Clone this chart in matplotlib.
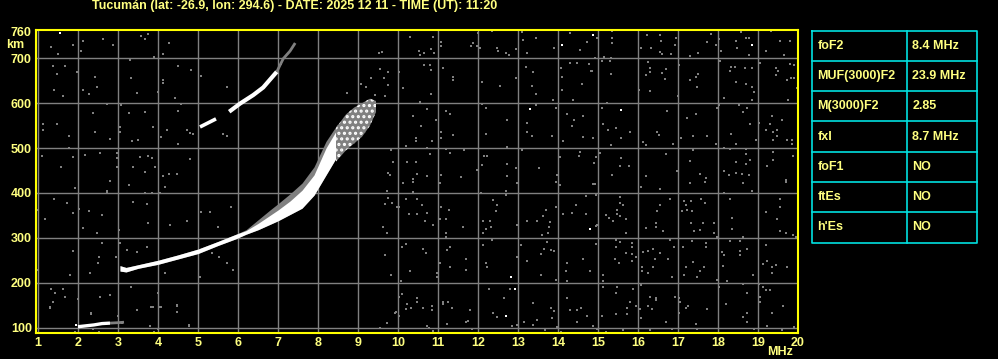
import matplotlib
matplotlib.use('Agg')
import matplotlib.pyplot as plt

title = 'Tucumán (lat: -26.9, lon: 294.6) - DATE: 2025 12 11 - TIME (UT): 11:20'
freq_ticks = list(range(1, 21))
height_ticks = [100, 200, 300, 400, 500, 600, 700]

# scaled parameters shown in the side table
params = ['foF2', 'MUF(3000)F2', 'M(3000)F2', 'fxI', 'foF1', 'ftEs', "h'Es"]
param_values = ['8.4 MHz', '23.9 MHz', '2.85', '8.7 MHz', 'NO', 'NO', 'NO']

# E-like trace near 100 km
e_freq = [2.0, 2.2, 2.4, 2.6, 2.8]
e_height = [102, 104, 106, 109, 110]
e_tail_freq = [2.8, 3.0, 3.15]
e_tail_height = [110, 111, 112]

# F2 trace, lower and upper edges of the echo band
f2_freq = [3.05, 3.2, 3.5, 4.0, 4.5, 5.0, 5.5, 5.95, 6.2, 6.5, 6.8, 7.0, 7.3, 7.6, 7.9, 8.2, 8.5]
f2_lower = [226, 224, 232, 241, 253, 265, 283, 298, 308, 318, 330, 338, 352, 366, 395, 440, 485]
f2_upper = [238, 234, 240, 250, 262, 275, 292, 308, 316, 332, 350, 362, 382, 406, 440, 500, 545]
# gray fringe on the upper side of the band
fringe_upper = [238, 234, 240, 250, 262, 275, 292, 308, 318, 340, 362, 376, 398, 422, 458, 515, 555]

# spread echo close to the critical frequency
spread_freq = [8.45, 8.7, 8.9, 9.1, 9.3, 9.45]
spread_lower = [470, 495, 510, 525, 550, 580]
spread_upper = [545, 575, 590, 600, 610, 605]

# second hop
hop2_freq = [5.05, 5.25, 5.45]
hop2_height = [547, 556, 565]
hop2b_freq = [5.78, 6.05, 6.38, 6.63, 6.97]
hop2b_height = [581, 599, 618, 635, 670]
hop2_tail_freq = [6.97, 7.13, 7.3, 7.43]
hop2_tail_height = [670, 699, 716, 734]

# isolated bright pixels
white_dots = [(1.55, 757), (14.1, 730), (14.88, 752), (13.3, 586), (18.84, 730), (15.58, 585),
              (14.8, 319), (12.83, 213), (12.93, 186), (12.69, 126), (1.95, 105)]

# background noise pixels
noise_dots = [
    (1.32, 725), (1.87, 729), (2.13, 739), (2.07, 716), (1.51, 709), (2.63, 744), (2.88, 729), (3.58, 749),
    (3.76, 754), (3.68, 744), (4.28, 733), (3.3, 697), (3.9, 703), (4.12, 709),
    (1.37, 682), (1.68, 682), (1.47, 666), (1.97, 670), (2.43, 659), (2.12, 630), (1.41, 630), (1.62, 616),
    (2.28, 621), (2.47, 635), (3.33, 655), (3.47, 623), (4.01, 625), (4.12, 651), (4.12, 644), (4.51, 682),
    (4.83, 675), (5.07, 660), (5.72, 635), (4.43, 612), (4.49, 582), (4.58, 598), (3.28, 577), (3.68, 581),
    (3.07, 596), (2.73, 598), (2.37, 577), (1.12, 553), (1.47, 553), (1.12, 541), (1.78, 527), (2.43, 536),
    (3.05, 547), (3.05, 536), (2.8, 521), (3.34, 515), (3.51, 519), (4.22, 540), (4.08, 524), (4.8, 534),
    (4.72, 540), (4.88, 531), (5.62, 531), (5.72, 527), (4.51, 510), (3.88, 547),
    (1.09, 482), (1.57, 458), (1.87, 481), (1.78, 501), (2.18, 484), (2.55, 488), (2.98, 488), (2.98, 477),
    (2.8, 427), (2.98, 458), (3.28, 417), (3.38, 458), (3.55, 481), (3.76, 482), (3.85, 477), (3.93, 458),
    (3.68, 447), (4.13, 437), (4.28, 443), (4.47, 443), (4.8, 475), (4.18, 414), (1.93, 412), (2.73, 404),
    (1.01, 362), (1.18, 343), (1.4, 386), (1.72, 378), (1.88, 356), (2.03, 365), (2.28, 360), (2.59, 351),
    (2.12, 321), (2.47, 311), (2.73, 399), (3.38, 380), (3.68, 399), (3.73, 375), (3.76, 334), (3.85, 399),
    (4.05, 399), (4.3, 328), (4.72, 338), (5.07, 358), (5.3, 358), (5.82, 369), (5.51, 325), (3.03, 317),
    (0.97, 228), (1.8, 217), (2.3, 221), (2.51, 243), (2.59, 289), (3.05, 289), (3.22, 274), (3.47, 269),
    (3.73, 279), (1.88, 271), (2.53, 258), (2.95, 258), (4.18, 222), (5.87, 228), (5.72, 245), (5.05, 213),
    (5.34, 267), (5.53, 258), (4.3, 250),
    (1.32, 187), (1.62, 187), (1.42, 176), (1.68, 169), (1.38, 156), (1.3, 143), (2.01, 163), (2.32, 130),
    (2.55, 169), (2.8, 173), (3.33, 191), (4.01, 178), (4.08, 145), (3.88, 145), (4.47, 150), (4.47, 135),
    (4.78, 106), (3.8, 104), (3.09, 111),
    (1.3, 146), (2.32, 132), (3.0, 126), (3.47, 139), (3.83, 146), (4.03, 146), (4.47, 148), (4.78, 103),
    (1.93, 91), (2.53, 91), (3.9, 91), (4.0, 96), (2.38, 97),
    (7.07, 687), (8.72, 623), (9.07, 642), (9.2, 636), (9.33, 655), (9.55, 677), (9.66, 655), (9.76, 670),
    (9.76, 640), (9.43, 618), (9.68, 616), (9.83, 496), (9.88, 470), (9.76, 444), (9.8, 440), (9.72, 404),
    (9.76, 388), (9.68, 375), (9.63, 325), (9.72, 310), (9.68, 262), (9.83, 217), (9.97, 369),
    (9.55, 100), (9.72, 110), (9.93, 133), (9.53, 711), (9.6, 714),
    (10.29, 747), (10.88, 747), (11.08, 736), (11.08, 728), (10.65, 711), (10.9, 711), (10.55, 708), (11.82, 728),
    (12.0, 756), (12.04, 722), (12.34, 761), (12.5, 716), (12.78, 707), (12.94, 721), (13.09, 759), (13.13, 740),
    (13.23, 711), (13.44, 746), (13.9, 724), (14.55, 719), (14.73, 737), (14.98, 745), (14.3, 756),
    (10.53, 717), (10.83, 720), (11.87, 733), (11.98, 727), (12.48, 723), (12.71, 711),
    (10.03, 670), (10.65, 684), (10.79, 685), (10.83, 674), (11.13, 678), (11.38, 659), (11.38, 651), (10.13, 633),
    (10.82, 621), (12.09, 647), (12.54, 638), (12.94, 655), (13.19, 681), (13.38, 670), (13.34, 639), (13.44, 621),
    (13.88, 607), (14.08, 678), (14.09, 659), (14.09, 629), (14.3, 689), (14.48, 689), (14.59, 642), (14.78, 687),
    (14.84, 672), (14.93, 700),
    (10.55, 602), (10.73, 587), (10.38, 572), (10.94, 563), (10.58, 549), (11.19, 583), (11.3, 575), (11.38, 529),
    (11.08, 535), (11.08, 522), (10.44, 522), (10.44, 515), (10.84, 515), (12.19, 589), (12.09, 598), (12.73, 563),
    (12.19, 531), (13.23, 555), (13.23, 535), (13.44, 595), (13.34, 527), (13.84, 527), (13.94, 589), (14.23, 575),
    (14.4, 563), (14.35, 549), (14.63, 572), (14.63, 524), (14.88, 522), (14.13, 516), (14.38, 607),
    (10.19, 505), (10.73, 500), (10.8, 487), (11.19, 497), (11.3, 490), (11.65, 496), (12.15, 483), (12.23, 483),
    (12.09, 462), (12.73, 503), (12.73, 464), (12.94, 455), (13.09, 495), (13.53, 455), (14.04, 479), (14.55, 491),
    (14.53, 483), (14.94, 481), (14.9, 466), (9.88, 470), (10.23, 468), (10.44, 468), (10.48, 442), (10.38, 432),
    (10.73, 438), (11.08, 441), (11.58, 435), (11.98, 451), (12.73, 438), (13.98, 440),
    (15.34, 761), (15.34, 746), (15.34, 733), (15.15, 702), (15.33, 700), (15.1, 693), (15.3, 693), (16.23, 752),
    (16.54, 752), (16.58, 739), (16.94, 745), (16.93, 730), (16.08, 722), (16.33, 722), (16.55, 713), (16.6, 709),
    (16.82, 709), (17.29, 706), (17.5, 711), (17.73, 737), (17.83, 753), (17.94, 730), (18.03, 743), (18.07, 716),
    (18.46, 739), (18.58, 758), (18.69, 746), (18.78, 746), (18.48, 722), (18.78, 707), (19.19, 716), (19.33, 761),
    (19.55, 739), (19.79, 739), (19.65, 707),
    (14.83, 672), (15.33, 664), (16.25, 691), (16.29, 679), (16.29, 670), (16.19, 663), (16.6, 668), (16.69, 676),
    (16.68, 654), (17.03, 685), (17.29, 652), (17.44, 659), (17.5, 664), (17.48, 637), (17.0, 616), (16.03, 629),
    (16.29, 627), (18.04, 693), (18.32, 680), (18.43, 680), (18.3, 672), (18.68, 678), (18.84, 678), (18.44, 648),
    (18.69, 642), (18.9, 624), (18.84, 637), (18.84, 607), (18.15, 611), (19.05, 689), (19.44, 678), (19.44, 663),
    (19.5, 672), (19.8, 687), (19.9, 685), (19.73, 652), (19.83, 655), (19.9, 655), (19.98, 633), (19.75, 607),
    (15.09, 589), (15.23, 600), (15.13, 553), (15.25, 540), (15.44, 544), (15.58, 522), (15.8, 535), (14.88, 522),
    (15.32, 506), (16.13, 513), (16.19, 506), (16.48, 535), (16.53, 528), (16.73, 583), (16.88, 508), (17.23, 566),
    (17.44, 575), (17.08, 522), (17.38, 526), (17.73, 527), (17.97, 589), (17.94, 508), (18.03, 595), (18.33, 531),
    (18.44, 508), (18.53, 595), (18.73, 589), (18.63, 580), (18.79, 553), (19.03, 555), (19.19, 540), (19.3, 553),
    (19.38, 535), (19.48, 540), (19.48, 527), (19.59, 563), (19.73, 518), (19.86, 518), (19.84, 508), (19.38, 518),
    (19.34, 572), (18.94, 518),
    (14.94, 481), (15.04, 488), (15.58, 477), (15.55, 460), (15.78, 460), (15.36, 439), (16.19, 438), (16.69, 486),
    (16.98, 448), (17.29, 471), (17.38, 496), (17.54, 442), (17.69, 433), (18.15, 500), (18.3, 498), (18.69, 497),
    (18.69, 487), (18.79, 474), (18.44, 470), (18.69, 465), (18.15, 449), (18.28, 440), (18.44, 444), (18.59, 442),
    (18.78, 439), (19.38, 491), (19.38, 474), (19.23, 460), (19.88, 482), (19.69, 428),
    (10.13, 423), (10.38, 425), (10.38, 402), (9.86, 378), (10.19, 386), (10.48, 386), (10.48, 354), (10.59, 373),
    (10.28, 352), (10.73, 356), (10.68, 338), (10.88, 328), (10.03, 369), (11.08, 369), (11.28, 363), (11.05, 342),
    (11.19, 342), (11.19, 311), (11.19, 302), (11.63, 325), (11.04, 423), (12.08, 400), (12.38, 385), (12.48, 373),
    (12.44, 359), (12.69, 404), (12.69, 396), (12.98, 423), (12.13, 337), (12.3, 337), (12.33, 325), (12.19, 319),
    (12.13, 310), (12.98, 328), (13.23, 337), (13.48, 337), (13.69, 363), (13.63, 348), (13.8, 336), (13.78, 325),
    (13.76, 310), (13.6, 307), (13.96, 425), (14.05, 417), (13.96, 369), (14.13, 352), (14.34, 356), (14.44, 373),
    (14.69, 352), (14.93, 421), (14.69, 393), (14.96, 327),
    (10.19, 287), (10.09, 280), (10.63, 275), (10.69, 267), (10.29, 227), (10.08, 204), (9.83, 217), (11.04, 244),
    (10.98, 221), (10.98, 213), (11.29, 280), (11.23, 273), (11.29, 235), (11.69, 253), (11.69, 228), (12.13, 284),
    (12.34, 295), (12.19, 244), (12.23, 234), (12.98, 258), (13.08, 285), (13.23, 249), (13.58, 264), (13.65, 276),
    (13.73, 291), (13.83, 274), (13.9, 270), (13.58, 217), (13.96, 206), (14.23, 243), (14.19, 227), (14.63, 253),
    (14.79, 227), (14.94, 286), (14.23, 204),
    (10.03, 169), (10.11, 174), (10.23, 152), (10.48, 167), (10.48, 157), (10.33, 144), (10.63, 143), (10.84, 148),
    (10.84, 139), (9.94, 135), (10.03, 126), (10.19, 141), (10.73, 103), (10.78, 100), (10.88, 93), (11.13, 156),
    (11.25, 157), (11.13, 152), (11.34, 144), (11.23, 108), (11.79, 139), (11.75, 115), (11.69, 113), (11.84, 97),
    (12.28, 186), (12.47, 123), (12.38, 132), (12.8, 187), (12.65, 165), (12.98, 106), (12.86, 104), (13.38, 154),
    (13.48, 118), (13.38, 106), (13.15, 113), (13.67, 94), (13.83, 143), (13.9, 137), (13.84, 122), (14.23, 165),
    (14.3, 139), (14.48, 139), (14.58, 144), (14.73, 126), (14.48, 113), (14.87, 104), (14.98, 98), (13.97, 102),
    (14.07, 91),
    (14.88, 420), (14.94, 395), (16.08, 414), (16.55, 408), (17.29, 423), (17.67, 425), (18.63, 423), (18.84, 405),
    (19.69, 425), (15.54, 391), (15.54, 378), (15.63, 373), (15.48, 363), (15.48, 354), (15.19, 351), (15.28, 345),
    (15.38, 337), (15.55, 348), (15.69, 343), (14.98, 328), (15.69, 311), (16.19, 321), (16.44, 332), (16.44, 325),
    (16.63, 316), (16.48, 359), (16.54, 373), (16.79, 386), (17.15, 382), (17.19, 373), (17.32, 382), (17.11, 360),
    (17.23, 363), (17.34, 359), (17.57, 386), (17.68, 378), (17.33, 333), (17.63, 333), (17.9, 332), (17.9, 311),
    (17.54, 317), (17.4, 316), (18.15, 399), (18.3, 386), (18.35, 345), (18.34, 319), (18.63, 301), (19.19, 358),
    (19.55, 386), (19.55, 369), (19.48, 342), (19.54, 315), (19.69, 310), (19.88, 307), (19.94, 302),
    (14.94, 287), (15.44, 296), (15.54, 291), (15.44, 280), (15.69, 267), (15.84, 289), (15.84, 280), (15.84, 265),
    (15.84, 249), (15.94, 258), (15.43, 253), (15.53, 245), (16.13, 269), (16.25, 271), (16.38, 276), (16.54, 267),
    (16.43, 253), (16.75, 253), (16.9, 280), (16.79, 295), (16.09, 234), (16.09, 227), (16.25, 222), (16.38, 234),
    (16.84, 213), (17.13, 280), (17.34, 293), (17.38, 247), (17.19, 236), (17.55, 227), (17.65, 234), (17.69, 289),
    (17.69, 280), (17.15, 217), (17.48, 212), (17.98, 301), (17.98, 207), (18.09, 269), (18.15, 262), (18.13, 237),
    (18.29, 293), (18.54, 293), (18.54, 271), (18.54, 262), (18.73, 276), (18.88, 217), (18.23, 204), (19.19, 285),
    (19.23, 249), (19.13, 241), (19.34, 234), (19.44, 239), (19.34, 222), (19.73, 236), (15.13, 217), (15.13, 204),
    (15.13, 191), (15.48, 191), (15.44, 178), (15.88, 185), (16.08, 195), (15.8, 158), (15.73, 144), (15.94, 149),
    (16.06, 141), (16.29, 169), (16.44, 167), (16.44, 162), (16.25, 148), (16.34, 141), (16.08, 122), (15.44, 130),
    (15.73, 130), (15.09, 126), (14.88, 103), (15.19, 91), (15.63, 94), (16.29, 94), (16.84, 98), (16.69, 113),
    (16.93, 169), (17.02, 165), (17.04, 158), (17.25, 148), (17.19, 143), (17.02, 132), (17.73, 141), (17.44, 108),
    (17.48, 98), (18.03, 191), (18.19, 152), (18.63, 198), (18.73, 176), (18.73, 132), (18.63, 123), (18.73, 113),
    (19.03, 197), (19.13, 191), (19.19, 184), (19.31, 184), (19.06, 169), (19.06, 158), (19.63, 148), (19.34, 132),
    (19.23, 103), (18.9, 96), (19.59, 95), (19.9, 102),
]

txt_color = '#FFFF80'
grid_color = '#808080'
font = dict(family='Liberation Sans', weight='bold', size=9, color=txt_color)
plt.rcParams['hatch.linewidth'] = 1.5

fig = plt.figure(figsize=(9.98, 3.59), dpi=100, facecolor='black')
ax = fig.add_axes([36 / 998, 26 / 359, 762 / 998, 303 / 359])
ax.set_facecolor('black')
ax.set_xlim(0.95, 20)
ax.set_ylim(88, 763)

for f in freq_ticks:
    ax.axvline(f, color=grid_color, lw=1.0, zorder=1)
for h in height_ticks:
    ax.axhline(h, color=grid_color, lw=1.0, zorder=1)

nf, nh = zip(*noise_dots)
ax.scatter(nf, nh, s=4.5, marker='s', c=grid_color, linewidths=0, zorder=2)
wf, wh = zip(*white_dots)
ax.scatter(wf, wh, s=4.5, marker='s', c='white', linewidths=0, zorder=4)

# echo traces
ax.plot(e_freq, e_height, color='white', lw=2.4, solid_capstyle='butt', zorder=4)
ax.plot(e_tail_freq, e_tail_height, color=grid_color, lw=2.0, solid_capstyle='butt', zorder=4)
ax.fill_between(f2_freq, f2_lower, fringe_upper, color=grid_color, lw=0, zorder=3)
ax.fill_between(f2_freq, f2_lower, f2_upper, color='white', lw=0, zorder=4)
ax.fill_between(spread_freq, spread_lower, spread_upper, facecolor=grid_color, edgecolor='white',
                hatch='...', lw=0, zorder=4)
ax.plot(hop2_freq, hop2_height, color='white', lw=2.6, solid_capstyle='butt', zorder=4)
ax.plot(hop2b_freq, hop2b_height, color='white', lw=3.0, solid_capstyle='butt', zorder=4)
ax.plot(hop2_tail_freq, hop2_tail_height, color=grid_color, lw=2.0, solid_capstyle='butt', zorder=4)

for s in ax.spines.values():
    s.set_color('yellow')
    s.set_linewidth(1.5)
    s.set_zorder(6)

ax.set_xticks(freq_ticks)
ax.set_xticklabels([str(f) for f in freq_ticks], **font)
ax.set_yticks(height_ticks + [760])
ax.set_yticklabels([str(h) for h in height_ticks + [760]], **font)
ax.tick_params(length=0, pad=3)
ax.text(-0.039, 729, 'km', transform=ax.get_yaxis_transform(), ha='left', va='center', **font)
ax.text(0.9934, -0.0627, 'MHz', transform=ax.transAxes, ha='right', va='center', **font)

fig.text(294.5 / 998, 1 - 6.5 / 359, title, ha='center', va='center', **font)

# parameter table, drawn in pixel coordinates
tab = fig.add_axes([0, 0, 1, 1], facecolor='none')
tab.set_xlim(0, 998)
tab.set_ylim(359, 0)
tab.axis('off')
cyan = '#00E0E0'
left, mid, right = 812.5, 907.5, 977.5
top, row_h = 30.5, 30.3
n = len(params)
tab.plot([left, right, right, left, left], [top, top, top + n * row_h, top + n * row_h, top], color=cyan, lw=1.2)
tab.plot([mid, mid], [top, top + n * row_h], color=cyan, lw=1.2)
for i in range(1, n):
    tab.plot([left, right], [top + i * row_h, top + i * row_h], color=cyan, lw=1.2)
for i, (p, v) in enumerate(zip(params, param_values)):
    yc = top + (i + 0.5) * row_h
    tab.text(left + 5, yc, p, ha='left', va='center', **font)
    tab.text(mid + 5, yc, v, ha='left', va='center', **font)

fig.savefig('out.png', dpi=100, facecolor='black')
